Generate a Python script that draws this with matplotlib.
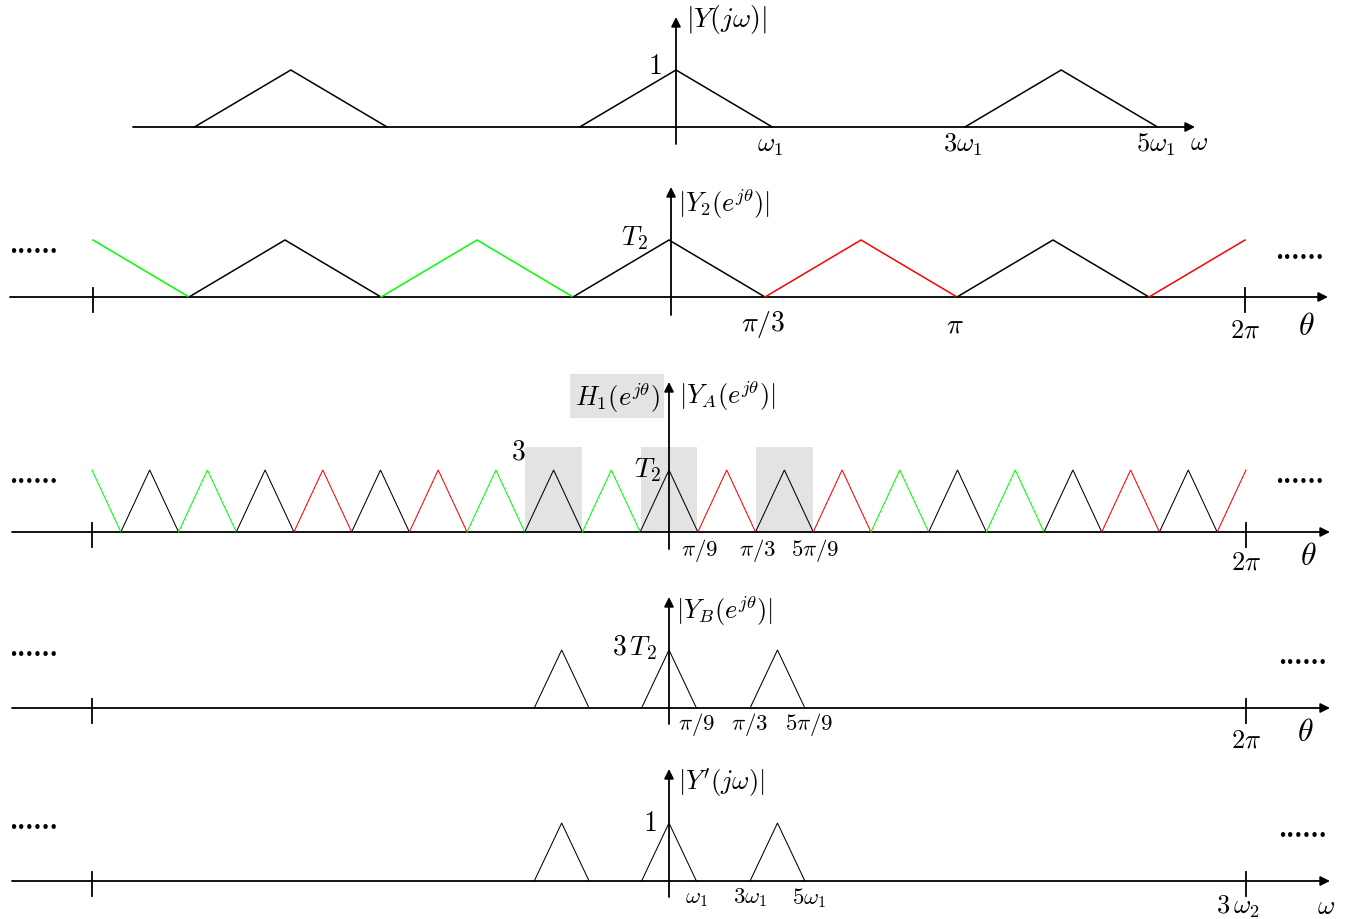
import numpy as np
import matplotlib.pyplot as plt
from matplotlib.patches import Rectangle

plt.rcParams['mathtext.fontset'] = 'cm'
plt.rcParams['font.family'] = 'DejaVu Serif'

# |Y(jw)| : triangle centres in units of w1, half width 1
y1_centers = [-4, 0, 4]
y1_colors = ['black', 'black', 'black']
y1_ticks = [1, 3, 5]
y1_ticklabels = [r'$\omega_1$', r'$3\omega_1$', r'$5\omega_1$']

# |Y2(e^jt)| : centres in units of pi/3, half width 1
y2_centers = [-6, -4, -2, 0, 2, 4, 6]
y2_colors = ['lime', 'black', 'lime', 'black', 'red', 'black', 'red']
y2_ticks = [1, 3]
y2_ticklabels = [r'$\pi/3$', r'$\pi$']

# |YA(e^jt)| : centres in sketch units (half width 1), periodic copies
ya_centers = [-20, -18, -16, -14, -12, -10, -8, -6, -4, -2, 0,
              2, 4, 6, 8, 10, 12, 14, 16, 18, 20]
ya_colors = ['lime', 'black', 'lime', 'black', 'red', 'black', 'red', 'lime', 'black', 'lime', 'black',
             'red', 'black', 'red', 'lime', 'black', 'lime', 'black', 'red', 'black', 'red']
ya_shaded = [-4, 0, 4]
ya_ticks = [1, 3, 5]
ya_ticklabels = [r'$\pi/9$', r'$\pi/3$', r'$5\pi/9$']

# |YB(e^jt)| and |Y'(jw)| : what is left after the filter H1
yb_centers = [-3.72, 0, 3.76]
yb_halfwidth = 0.95
yb_ticks = [0.95, 2.8, 4.85]
yb_ticklabels = [r'$\pi/9$', r'$\pi/3$', r'$5\pi/9$']
yp_ticklabels = [r'$\omega_1$', r'$3\omega_1$', r'$5\omega_1$']

fig = plt.figure(figsize=(13.49, 9.20), dpi=100)
ax = fig.add_axes([0, 0, 1, 1])
ax.set_xlim(0, 1349)
ax.set_ylim(920, 0)
ax.axis('off')

AX_LW = 1.3
BIG = 19
MID = 19
SMALL = 16.5


def arrow(x0, y0, x1, y1):
    ax.annotate('', xy=(x1, y1), xytext=(x0, y0),
                arrowprops=dict(arrowstyle='-|>', lw=AX_LW, color='black',
                                mutation_scale=14, shrinkA=0, shrinkB=0))


def triangles(centers, colors, x0, unit, base, hpx, hw=1.0, lw=1.1, lo=-99, hi=99):
    for c, col in zip(centers, colors):
        xs = np.array([c - hw, c, c + hw])
        ys = np.array([0.0, 1.0, 0.0])
        keep = (xs >= lo - 1e-9) & (xs <= hi + 1e-9)
        ax.plot(x0 + xs[keep] * unit, base - ys[keep] * hpx, color=col, lw=lw,
                solid_joinstyle='miter', zorder=3)


def dots(x, y):
    ax.text(x, y, '......', fontsize=17, fontweight='bold', ha='left', va='baseline')


# ---- panel 1
x0, u, base = 676, 96.3, 128
arrow(133, base, 1195, base)
arrow(x0, 145, x0, 18)
triangles(y1_centers, y1_colors, x0, u, base, 57)
for t, lab in zip(y1_ticks, y1_ticklabels):
    ax.text(x0 + t * u - 2, base + 17, lab, fontsize=MID, ha='center', va='center')
ax.text(1190, base + 15, r'$\omega$', fontsize=MID, ha='left', va='center')
ax.text(686, 20, r'$|Y(j\omega)|$', fontsize=20, ha='left', va='center')
ax.text(662, 66, r'$1$', fontsize=20, ha='right', va='center')

# ---- panel 2
x0, u, base = 669, 96, 298
arrow(10, base, 1328, base)
arrow(671, 316, 671, 188)
for t in (-6, 6):
    ax.plot([x0 + t * u] * 2, [base - 9, base + 15], color='black', lw=AX_LW)
triangles(y2_centers, y2_colors, x0, u, base, 57, lo=-6, hi=6)
for t, lab in zip(y2_ticks, y2_ticklabels):
    ax.text(x0 + t * u - 2, base + 27, lab, fontsize=20, ha='center', va='center')
ax.text(x0 + 6 * u, base + 32, r'$2\pi$', fontsize=MID, ha='center', va='center')
ax.text(1306, base + 29, r'$\theta$', fontsize=23, ha='center', va='center')
ax.text(678, 203, r'$|Y_2(e^{j\theta})|$', fontsize=BIG, ha='left', va='center')
ax.text(648, 238, r'$T_2$', fontsize=20, ha='right', va='center')
dots(9, 253)
dots(1275, 259)

# ---- panel 3
x0, u, base = 669, 28.85, 533
for c in ya_shaded:
    ax.add_patch(Rectangle((x0 + (c - 0.98) * u, base - 85), 1.96 * u, 85,
                           facecolor='#e3e3e3', edgecolor='none', zorder=1))
arrow(12, base, 1330, base)
arrow(669, 550, 669, 383)
for t in (-20, 20):
    ax.plot([x0 + t * u] * 2, [base - 9, base + 15], color='black', lw=AX_LW)
triangles(ya_centers, ya_colors, x0, u, base, 62, lw=0.75, lo=-20, hi=20)
for t, lab in zip(ya_ticks, ya_ticklabels):
    ax.text(x0 + t * u + 2, base + 18, lab, fontsize=SMALL, ha='center', va='center')
ax.text(x0 + 20 * u, base + 29, r'$2\pi$', fontsize=MID, ha='center', va='center')
ax.text(1308, base + 24, r'$\theta$', fontsize=23, ha='center', va='center')
ax.text(679, 395, r'$|Y_A(e^{j\theta})|$', fontsize=BIG, ha='left', va='center')
ax.text(617, 397, r'$H_1(e^{j\theta})$', fontsize=19, ha='center', va='center',
        bbox=dict(facecolor='#e3e3e3', edgecolor='none', pad=3))
ax.text(518, 452, r'$3$', fontsize=20, ha='center', va='center')
ax.text(661, 470, r'$T_2$', fontsize=20, ha='right', va='center')
dots(9, 483)
dots(1275, 483)

# ---- panel 4
x0, u, base = 669, 28.85, 709
arrow(12, base, 1330, base)
arrow(669, 725, 669, 598)
for t in (-20, 20):
    ax.plot([x0 + t * u] * 2, [base - 9, base + 15], color='black', lw=AX_LW)
triangles(yb_centers, ['black'] * 3, x0, u, base, 58, hw=yb_halfwidth, lw=0.75)
for t, lab in zip(yb_ticks, yb_ticklabels):
    ax.text(x0 + t * u, base + 16, lab, fontsize=SMALL, ha='center', va='center')
ax.text(x0 + 20 * u, base + 31, r'$2\pi$', fontsize=MID, ha='center', va='center')
ax.text(1305, base + 24, r'$\theta$', fontsize=23, ha='center', va='center')
ax.text(676, 610, r'$|Y_B(e^{j\theta})|$', fontsize=BIG, ha='left', va='center')
ax.text(657, 648, r'$3\,T_2$', fontsize=20, ha='right', va='center')
dots(9, 656)
dots(1278, 664)

# ---- panel 5
x0, u, base = 669, 28.85, 882
arrow(12, base, 1330, base)
arrow(669, 898, 669, 770)
for t, lab in zip(yb_ticks, yp_ticklabels):
    ax.text(x0 + t * u, base + 16, lab, fontsize=SMALL, ha='center', va='center')
for t in (-20, 20):
    ax.plot([x0 + t * u] * 2, [base - 9, base + 15], color='black', lw=AX_LW)
triangles(yb_centers, ['black'] * 3, x0, u, base, 58, hw=yb_halfwidth, lw=0.75)
ax.text(1238, base + 25, r'$3\,\omega_2$', fontsize=19, ha='center', va='center')
ax.text(1326, base + 25, r'$\omega$', fontsize=MID, ha='center', va='center')
ax.text(678, 783, r"$|Y'(j\omega)|$", fontsize=BIG, ha='left', va='center')
ax.text(657, 824, r'$1$', fontsize=20, ha='right', va='center')
dots(9, 829)
dots(1278, 837)

fig.savefig('out.png', dpi=100)
